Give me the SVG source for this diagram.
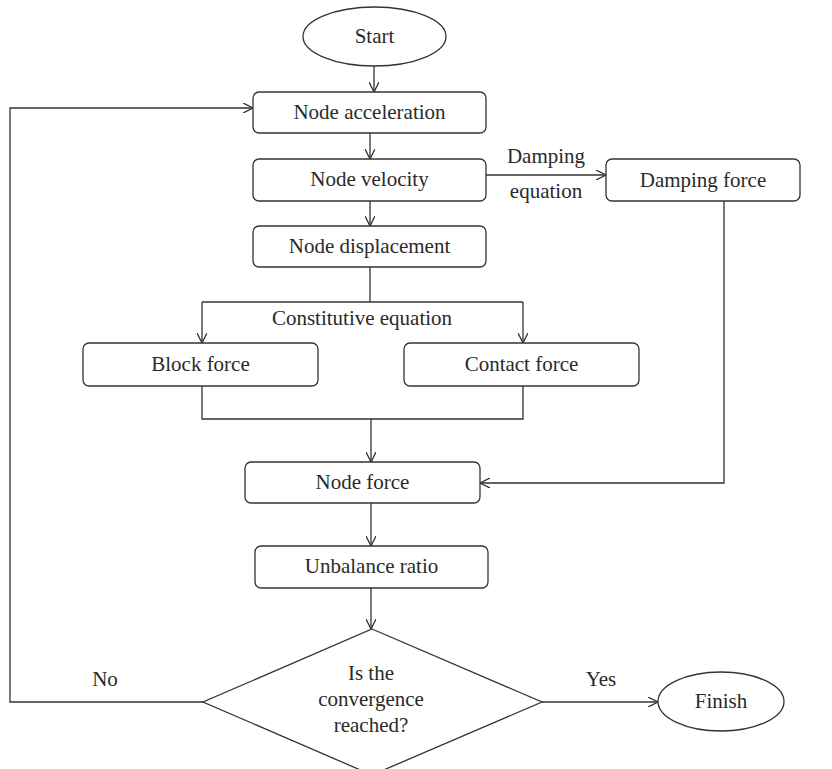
<svg xmlns="http://www.w3.org/2000/svg" width="832" height="769" viewBox="0 0 832 769">
<style>
.n{fill:#fff;stroke:#333;stroke-width:1.3}
.c{fill:none;stroke:#333;stroke-width:1.3}
text{font-family:"Liberation Serif","Times New Roman",serif;font-size:21px;fill:#2a2a2a;text-anchor:middle}
</style>
<defs>
<marker id="a" viewBox="0 0 10 10" refX="10" refY="5" markerWidth="10" markerHeight="10" markerUnits="userSpaceOnUse" orient="auto">
<path d="M0,0 L10,5 L0,10" fill="none" stroke="#333" stroke-width="1.3"/>
</marker>
</defs>
<rect width="832" height="769" fill="#fff"/>
<g id="connectors">
<path class="c" d="M374,66 V92" marker-end="url(#a)"/>
<path class="c" d="M370,133 V159" marker-end="url(#a)"/>
<path class="c" d="M370,201 V226" marker-end="url(#a)"/>
<path class="c" d="M486,175 H606" marker-end="url(#a)"/>
<path class="c" d="M370,267 V302"/>
<path class="c" d="M202,302 H523"/>
<path class="c" d="M202,302 V343" marker-end="url(#a)"/>
<path class="c" d="M523,302 V343" marker-end="url(#a)"/>
<path class="c" d="M202,386 V419 H523 V386"/>
<path class="c" d="M371,419 V462" marker-end="url(#a)"/>
<path class="c" d="M724,201 V483 H480" marker-end="url(#a)"/>
<path class="c" d="M371,503 V546" marker-end="url(#a)"/>
<path class="c" d="M371,588 V629" marker-end="url(#a)"/>
<path class="c" d="M203,702 H10 V108 H253" marker-end="url(#a)"/>
<path class="c" d="M542,702 H658" marker-end="url(#a)"/>
<text x="546" y="163">Damping</text>
<text x="546" y="198">equation</text>
<text x="362" y="325">Constitutive equation</text>
<text x="105" y="686">No</text>
<text x="601" y="686">Yes</text>
</g>
<g id="start"><ellipse class="n" cx="374.5" cy="36.5" rx="71.5" ry="29.5"/><text x="374.5" y="43">Start</text></g>
<g id="acc"><rect class="n" x="253" y="92" width="233" height="41" rx="6"/><text x="369.5" y="119">Node acceleration</text></g>
<g id="vel"><rect class="n" x="253" y="159" width="233" height="42" rx="6"/><text x="369.5" y="186">Node velocity</text></g>
<g id="disp"><rect class="n" x="253" y="226" width="233" height="41" rx="6"/><text x="369.5" y="253">Node displacement</text></g>
<g id="damp"><rect class="n" x="606" y="159" width="194" height="42" rx="6"/><text x="703" y="187">Damping force</text></g>
<g id="block"><rect class="n" x="83" y="343" width="235" height="43" rx="6"/><text x="200.5" y="371">Block force</text></g>
<g id="contact"><rect class="n" x="404" y="343" width="235" height="43" rx="6"/><text x="521.5" y="371">Contact force</text></g>
<g id="nodeforce"><rect class="n" x="245" y="462" width="235" height="41" rx="6"/><text x="362.5" y="489">Node force</text></g>
<g id="unbal"><rect class="n" x="255" y="546" width="233" height="42" rx="6"/><text x="371.5" y="573">Unbalance ratio</text></g>
<g id="decision"><polygon class="n" points="372,629 542,702 372,775 203,702"/>
<text x="371" y="680">Is the</text><text x="371" y="706">convergence</text><text x="371" y="732">reached?</text></g>
<g id="finish"><ellipse class="n" cx="721" cy="701.5" rx="63" ry="29.5"/><text x="721" y="708">Finish</text></g>
</svg>
